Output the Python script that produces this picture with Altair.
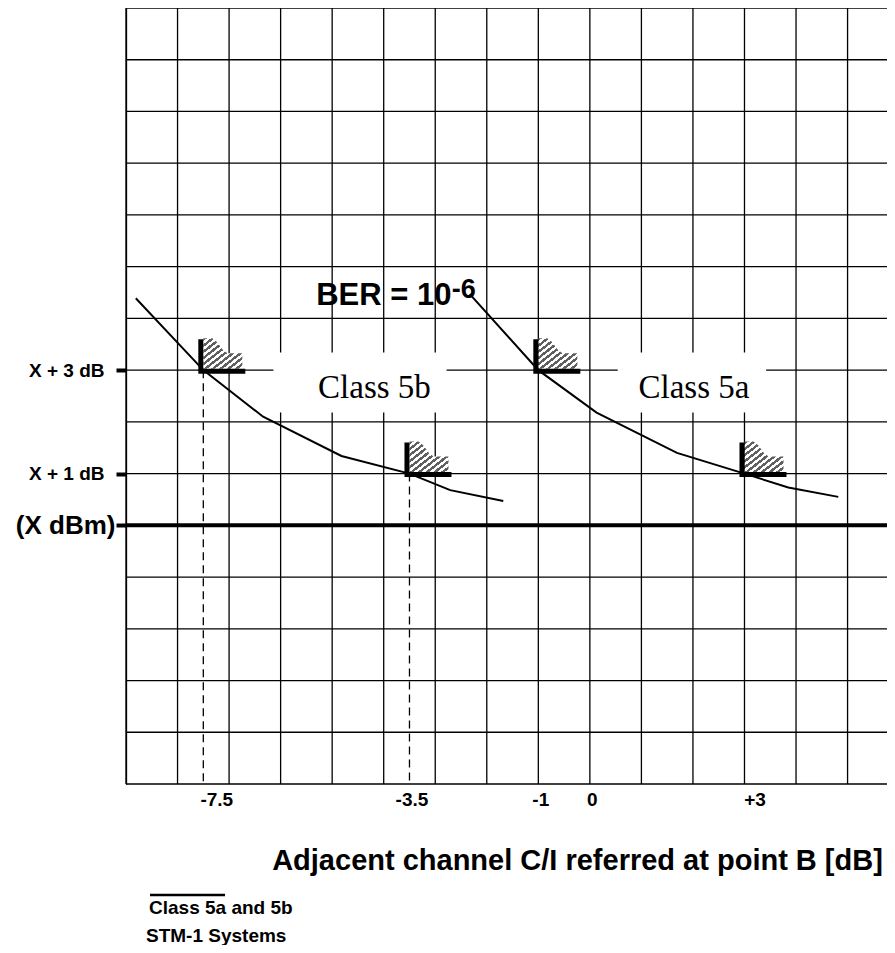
import altair as alt
import pandas as pd

# ---------------- data ----------------
grid_x = [-9, -8, -7, -6, -5, -4, -3, -2, -1, 0, 1, 2, 3, 4, 5]
grid_y = [-5, -4, -3, -2, -1, 0, 1, 2, 3, 4, 5, 6, 7, 8, 9, 10]

x_tick_values = [-7.5, -3.5, -1, 0, 3]
y_tick_values = [0, 1, 3]

# BER = 1e-6 curves
c5b_x = [-8.81, -7.5, -6.34, -4.82, -3.5, -2.71, -1.68]
c5b_y = [4.39, 3.0, 2.10, 1.34, 1.0, 0.68, 0.47]
c5a_x = [-2.33, -1.0, 0.13, 1.69, 3.0, 3.85, 4.82]
c5a_y = [4.47, 3.0, 2.18, 1.40, 1.0, 0.73, 0.55]

# threshold corner markers
corner_x = [-7.5, -3.5, -1.0, 3.0]
corner_y = [3.0, 1.0, 3.0, 1.0]

# dashed drop lines
dash_x = [-7.5, -3.5]
dash_top = [3.0, 1.0]
y_min = -5

# reference level (X dBm)
ref_y = [0]

# class labels with white boxes behind them
class_labels = ["Class 5b", "Class 5a"]
class_x = [-4.18, 2.02]
class_y = [2.47, 2.47]
box_x1 = [-6.14, 0.54]
box_x2 = [-2.78, 3.42]
box_y1 = [2.18, 2.18]
box_y2 = [3.34, 3.34]

ber_text = ["BER = 10"]
ber_x = [-5.31]
ber_y = [4.26]
ber_exp = ["-6"]
ber_exp_x = [-2.68]
ber_exp_y = [4.40]

# ---------------- scales / axes ----------------
SANS = "Liberation Sans"
SERIF = "Liberation Serif"

xs = alt.Scale(domain=[-9, 5.765], nice=False, zero=False)
ys = alt.Scale(domain=[-5, 10], nice=False, zero=False)

xaxis = alt.Axis(
    values=x_tick_values,
    labelExpr="datum.value > 0 ? '+' + datum.value : '' + datum.value",
    ticks=False, domain=False, grid=False,
    labelFont=SANS, labelFontWeight="bold", labelFontSize=19, labelColor="black",
    labelPadding=6, labelOverlap=False, labelFlush=False,
    labelOffset={"condition": [{"test": "datum.value == -7.5", "value": 13},
                               {"test": "datum.value == 3", "value": 10}],
                 "value": 2},
    title="Adjacent channel C/I referred at point B [dB]",
    titleFont=SANS, titleFontWeight="bold", titleFontSize=29, titleColor="black",
    titleX=451, titleY=85, titleAlign="center", titleBaseline="alphabetic",
)

yaxis = alt.Axis(
    values=y_tick_values,
    labelExpr="datum.value == 0 ? '(X dBm)' : datum.value == 1 ? 'X + 1 dB' : 'X + 3 dB'",
    grid=False, domain=True, domainColor="black", domainWidth=1.3,
    ticks=True, tickSize=10, tickWidth=4, tickColor="black",
    labelFont=SANS, labelFontWeight="bold", labelColor="black",
    labelFontSize={"condition": {"test": "datum.value == 0", "value": 26}, "value": 19},
    labelPadding={"condition": {"test": "datum.value == 0", "value": 1}, "value": 12},
    labelOverlap=False, title=None,
)


def X(f):
    return alt.X(f, type="quantitative", scale=xs, axis=xaxis)


def Y(f):
    return alt.Y(f, type="quantitative", scale=ys, axis=yaxis)


# ---------------- layers ----------------
vgrid = alt.Chart(pd.DataFrame({"x": grid_x})).mark_rule(
    color="black", strokeWidth=1.3).encode(x=X("x"))
hgrid = alt.Chart(pd.DataFrame({"y": grid_y})).mark_rule(
    color="black", strokeWidth=1.3).encode(y=Y("y"))

boxes = alt.Chart(pd.DataFrame({"x": box_x1, "x2": box_x2, "y": box_y1, "y2": box_y2})).mark_rect(
    color="white", strokeWidth=0).encode(x=X("x"), x2="x2", y=Y("y"), y2="y2")

ref_line = alt.Chart(pd.DataFrame({"y": ref_y})).mark_rule(
    color="black", strokeWidth=4).encode(y=Y("y"))

dashes = alt.Chart(pd.DataFrame({"x": dash_x, "y": dash_top, "y2": [y_min] * len(dash_x)})).mark_rule(
    color="black", strokeWidth=1.3, strokeDash=[8, 5]).encode(x=X("x"), y=Y("y"), y2="y2")

curve_df = pd.concat([
    pd.DataFrame({"x": c5b_x, "y": c5b_y, "series": "5b"}),
    pd.DataFrame({"x": c5a_x, "y": c5a_y, "series": "5a"}),
])
curves = alt.Chart(curve_df).mark_line(color="black", strokeWidth=2).encode(
    x=X("x"), y=Y("y"), detail="series:N")

N = 10
stops = []
for i in range(N):
    a, b, c = i / N, (i + 0.5) / N, (i + 1) / N
    stops += [{"offset": a, "color": "#606060"}, {"offset": b, "color": "#606060"},
              {"offset": b, "color": "#ffffff"}, {"offset": c, "color": "#ffffff"}]
hatch_fill = {"gradient": "linear", "x1": 0, "y1": 0, "x2": 1, "y2": 1, "stops": stops}

HATCH_PATH = "M0,-1.5L0,-32L9,-32L14,-28L19,-21L24,-17L39,-17L39,-1.5Z"
L_PATH = "M-5,-31L0,-31L0,-1.5L42,-1.5L42,3.5L-5,3.5Z"

corner_df = pd.DataFrame({"x": corner_x, "y": corner_y})
hatch = alt.Chart(corner_df).mark_point(
    shape=HATCH_PATH, size=4, filled=True, fill=hatch_fill, opacity=1, strokeWidth=0
).encode(x=X("x"), y=Y("y"))
ell = alt.Chart(corner_df).mark_point(
    shape=L_PATH, size=4, filled=True, fill="black", opacity=1, strokeWidth=0
).encode(x=X("x"), y=Y("y"))

class_text = alt.Chart(pd.DataFrame({"x": class_x, "y": class_y, "t": class_labels})).mark_text(
    font=SERIF, fontSize=33, align="center", baseline="alphabetic", color="black"
).encode(x=X("x"), y=Y("y"), text="t:N")

ber = alt.Chart(pd.DataFrame({"x": ber_x, "y": ber_y, "t": ber_text})).mark_text(
    font=SANS, fontWeight="bold", fontSize=31, align="left", baseline="alphabetic", color="black"
).encode(x=X("x"), y=Y("y"), text="t:N")
ber_sup = alt.Chart(pd.DataFrame({"x": ber_exp_x, "y": ber_exp_y, "t": ber_exp})).mark_text(
    font=SANS, fontWeight="bold", fontSize=27, align="left", baseline="alphabetic", color="black"
).encode(x=X("x"), y=Y("y"), text="t:N")

note1 = alt.Chart(pd.DataFrame({"t": ["Class 5a and 5b"]})).mark_text(
    font=SANS, fontWeight="bold", fontSize=19, align="left", baseline="alphabetic", color="black"
).encode(x=alt.value(23), y=alt.value(906), text="t:N")
note2 = alt.Chart(pd.DataFrame({"t": ["STM-1 Systems"]})).mark_text(
    font=SANS, fontWeight="bold", fontSize=19, align="left", baseline="alphabetic", color="black"
).encode(x=alt.value(20), y=alt.value(934), text="t:N")
overline = alt.Chart(pd.DataFrame({"t": ["bar"]})).mark_rule(
    color="black", strokeWidth=2.5
).encode(x=alt.value(24), x2=alt.value(99), y=alt.value(887))

chart = alt.layer(
    vgrid, hgrid, boxes, ref_line, dashes, curves, hatch, ell,
    class_text, ber, ber_sup, note1, note2, overline
).properties(
    width=761, height=776,
    autosize=alt.AutoSizeParams(type="none"),
    padding={"left": 118, "top": 0, "right": 0, "bottom": 161},
    background="white",
).configure_view(stroke=None)

chart.save("out.html", embed_options={"renderer": "svg", "actions": False})
